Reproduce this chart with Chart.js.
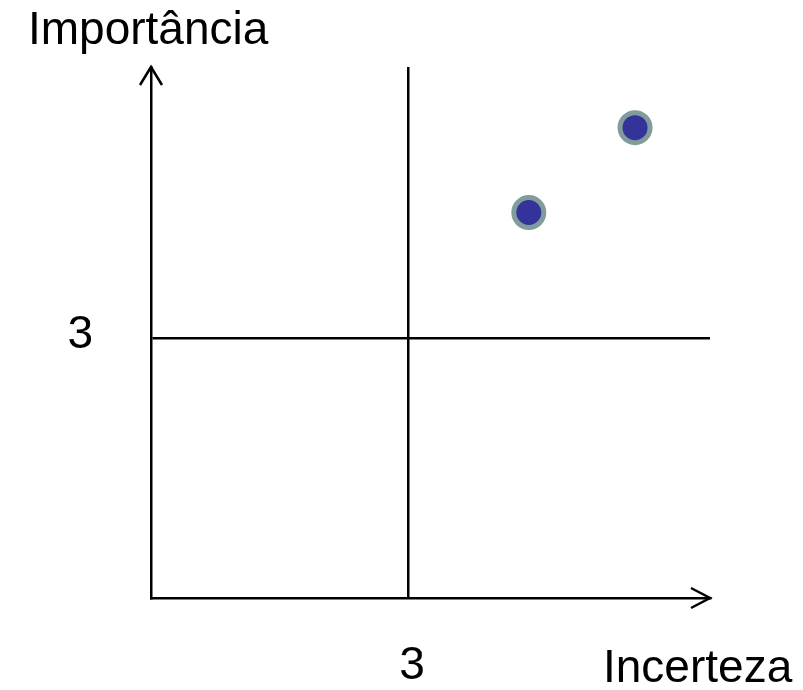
<!DOCTYPE html>
<html>
<head>
<meta charset="utf-8">
<script src="https://cdn.jsdelivr.net/npm/chart.js@4.4.1/dist/chart.umd.min.js"></script>
<style>
  html, body { margin: 0; padding: 0; background: #fff; }
  canvas { display: block; }
</style>
</head>
<body>
<canvas id="matrixChart" width="803" height="690"></canvas>
<script>
// Dados
const incerteza = [5.65, 4.41];
const importancia = [5.43, 4.45];
const xTicks = [3];
const yTicks = [3];
const xMax = 6.525;
const yMax = 6.13;
const xLabel = 'Incerteza';
const yLabel = 'Importância';

const FONT = '"Liberation Sans", Arial, sans-serif';

// setas nas pontas dos eixos + títulos dos eixos
const axisDecor = {
    id: 'axisDecor',
    afterDraw(chart) {
        const { ctx, chartArea: a } = chart;
        ctx.save();
        ctx.strokeStyle = '#000';
        ctx.lineWidth = 2.5;
        ctx.lineCap = 'butt';
        ctx.lineJoin = 'miter';
        // seta vertical
        ctx.beginPath();
        ctx.moveTo(a.left - 11, a.top + 18);
        ctx.lineTo(a.left, a.top);
        ctx.lineTo(a.left + 11, a.top + 18);
        ctx.stroke();
        // seta horizontal
        ctx.beginPath();
        ctx.moveTo(a.right - 19, a.bottom - 10);
        ctx.lineTo(a.right, a.bottom);
        ctx.lineTo(a.right - 19, a.bottom + 10);
        ctx.stroke();

        ctx.fillStyle = '#000';
        ctx.font = '46px ' + FONT;
        ctx.textBaseline = 'alphabetic';
        ctx.textAlign = 'left';
        ctx.fillText(yLabel, 28, 44);
        ctx.fillText(xLabel, 603, 682);
        ctx.restore();
    }
};

const ctx = document.getElementById('matrixChart').getContext('2d');

new Chart(ctx, {
    type: 'scatter',
    data: {
        datasets: [{
            data: incerteza.map((x, i) => ({ x: x, y: importancia[i] })),
            backgroundColor: '#333399',
            borderColor: '#809c9c',
            borderWidth: 5,
            pointRadius: 15,
            pointHoverRadius: 15
        }]
    },
    options: {
        responsive: false,
        animation: false,
        layout: { padding: { left: 0, right: 93, top: 67, bottom: 0 } },
        plugins: {
            legend: { display: false },
            tooltip: { enabled: false }
        },
        scales: {
            x: {
                type: 'linear',
                min: 0,
                max: xMax,
                afterBuildTicks: (s) => { s.ticks = xTicks.map(v => ({ value: v })); },
                afterFit: (s) => { s.height = 92; s.paddingLeft = 0; s.paddingRight = 0; },
                grid: { color: '#000', lineWidth: 2.5, drawTicks: false },
                border: { display: true, color: '#000', width: 2.5 },
                ticks: {
                    color: '#000',
                    font: { family: FONT, size: 46 },
                    padding: 41,
                    labelOffset: 4,
                    maxRotation: 0
                }
            },
            y: {
                type: 'linear',
                min: 0,
                max: yMax,
                afterBuildTicks: (s) => { s.ticks = yTicks.map(v => ({ value: v })); },
                afterFit: (s) => { s.width = 151; s.paddingTop = 0; s.paddingBottom = 0; },
                grid: { color: '#000', lineWidth: 2.5, drawTicks: false },
                border: { display: true, color: '#000', width: 2.5 },
                ticks: {
                    color: '#000',
                    font: { family: FONT, size: 46 },
                    padding: 58,
                    labelOffset: -3
                }
            }
        }
    },
    plugins: [axisDecor]
});
</script>
</body>
</html>
